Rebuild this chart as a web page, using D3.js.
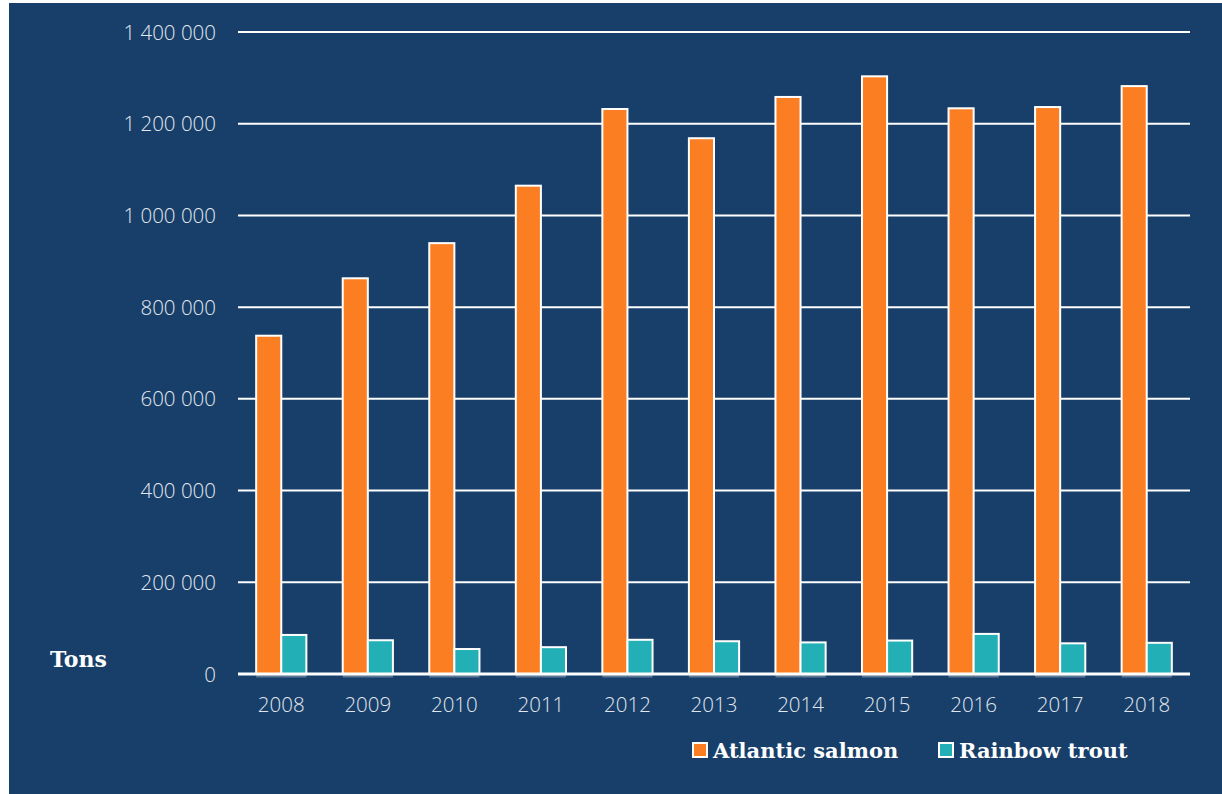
<!DOCTYPE html>
<html><head><meta charset="utf-8">
<script src="https://cdn.jsdelivr.net/npm/d3@7/dist/d3.min.js"></script>
<style>html,body{margin:0;padding:0;background:#fff;}svg{display:block;}</style>
</head><body>
<svg id="c" width="1222" height="794"></svg>
<script>
const years = ["2008","2009","2010","2011","2012","2013","2014","2015","2016","2017","2018"];
const salmon = [737694, 862908, 939575, 1064868, 1232095, 1168324, 1258356, 1303346, 1233619, 1236353, 1282003];
const trout = [85176, 73601, 54451, 58472, 74583, 71449, 68910, 72921, 87446, 66902, 67998];
const seriesNames = ["Atlantic salmon", "Rainbow trout"];
const seriesColors = ["#fc7e22", "#22afb5"];
const yTicks = [0, 200000, 400000, 600000, 800000, 1000000, 1200000, 1400000];

const svg = d3.select("#c");
svg.append("rect").attr("x", 9).attr("y", 3).attr("width", 1213).attr("height", 791).attr("fill", "#173f6a");

const x = d3.scaleBand().domain(years).range([238, 1190]).paddingInner(0.42).paddingOuter(0.21);
const y = d3.scaleLinear().domain([0, 1400000]).range([674, 32]);
const fmt = v => d3.format(",")(v).replace(/,/g, " ");

// gridlines
svg.append("g").selectAll("line").data(yTicks.filter(d => d > 0)).join("line")
  .attr("x1", 238).attr("x2", 1190).attr("y1", d => y(d)).attr("y2", d => y(d))
  .attr("stroke", "#ffffff").attr("stroke-width", 2);

// y tick labels
svg.append("g").selectAll("text").data(yTicks).join("text")
  .attr("x", 216).attr("y", d => y(d) + 7.5).attr("text-anchor", "end")
  .attr("font-family", "'Open Sans', sans-serif").attr("font-weight", 300)
  .attr("font-size", 20.5).attr("fill", "#e2e7ee").text(d => d === 0 ? "0" : fmt(d));

const sub = d3.scaleBand().domain([0, 1]).range([0, x.bandwidth()]);
const data = years.map((yr, i) => ({ yr, vals: [salmon[i], trout[i]] }));

const groups = svg.append("g").selectAll("g").data(data).join("g")
  .attr("transform", d => `translate(${x(d.yr)},0)`);
// faint shadow beneath bars
groups.selectAll("rect.sh").data(d => d.vals.map((v, k) => ({ v, k }))).join("rect")
  .attr("class", "sh").attr("x", d => sub(d.k)).attr("width", sub.bandwidth())
  .attr("y", y(0)).attr("height", 3.5).attr("fill", "#5d7895");
groups.selectAll("rect.bar").data(d => d.vals.map((v, k) => ({ v, k }))).join("rect")
  .attr("class", "bar").attr("x", d => sub(d.k)).attr("width", sub.bandwidth())
  .attr("y", d => y(d.v)).attr("height", d => y(0) - y(d.v))
  .attr("fill", d => seriesColors[d.k]).attr("stroke", "#ffffff").attr("stroke-width", 2);

// baseline
svg.append("line").attr("x1", 238).attr("x2", 1190).attr("y1", y(0)).attr("y2", y(0))
  .attr("stroke", "#ffffff").attr("stroke-width", 3);

// x labels
svg.append("g").selectAll("text").data(years).join("text")
  .attr("x", d => x(d) + x.bandwidth() / 2).attr("y", 712).attr("text-anchor", "middle")
  .attr("font-family", "'Open Sans', sans-serif").attr("font-weight", 300)
  .attr("font-size", 20.5).attr("fill", "#e2e7ee").text(d => d);

// Tons label
svg.append("text").attr("x", 50).attr("y", 667)
  .attr("font-family", "'DejaVu Serif', serif").attr("font-weight", "bold")
  .attr("font-size", 22).attr("fill", "#ffffff").text("Tons");

// legend
const legX = [693, 939];
const leg = svg.append("g").selectAll("g").data(seriesNames).join("g")
  .attr("transform", (d, i) => `translate(${legX[i]},743)`);
leg.append("rect").attr("x", 0).attr("y", 0).attr("width", 14).attr("height", 14)
  .attr("fill", (d, i) => seriesColors[i]).attr("stroke", "#ffffff").attr("stroke-width", 2);
leg.append("text").attr("x", 20).attr("y", 15)
  .attr("font-family", "'DejaVu Serif', serif").attr("font-weight", "bold")
  .attr("font-size", 21).attr("fill", "#ffffff").text(d => d);
</script>
</body></html>
